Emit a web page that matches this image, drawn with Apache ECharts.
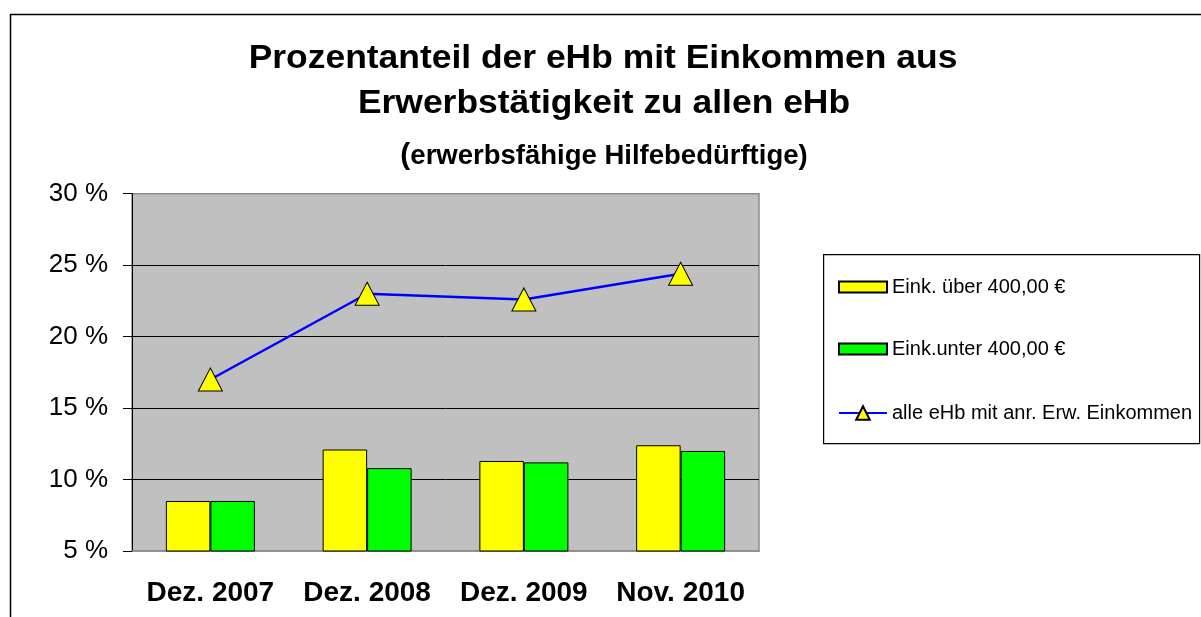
<!DOCTYPE html>
<html>
<head>
<meta charset="utf-8">
<script src="https://cdn.jsdelivr.net/npm/echarts@6/dist/echarts.min.js"></script>
<style>
  html, body { margin: 0; padding: 0; background: #fff; }
  #main { width: 1201px; height: 617px; }
</style>
</head>
<body>
<div id="main"></div>
<script>
var categories = ['Dez. 2007', 'Dez. 2008', 'Dez. 2009', 'Nov. 2010'];
var ueber400 = [8.5, 12.1, 11.3, 12.4];
var unter400 = [8.5, 10.8, 11.2, 12.0];
var alleEhb = [17.0, 23.0, 22.6, 24.4];
var seriesNames = ['Eink. über 400,00 €', 'Eink.unter 400,00 €', 'alle eHb mit anr. Erw. Einkommen'];

var chart = echarts.init(document.getElementById('main'));
var font = 'Liberation Sans, Arial, sans-serif';

// the big title in the original is a bit wider than plain Arial, so stretch it
var stretch = 1.09;

chart.setOption({
  animation: false,
  textStyle: { fontFamily: font },
  graphic: [
    {
      type: 'rect', left: 8, top: 12,
      shape: { width: 1200, height: 610 },
      style: { fill: 'none', stroke: '#000', lineWidth: 1.5 }, z: -1
    },
    {
      type: 'rect', left: 823, top: 254,
      shape: { width: 376, height: 189 },
      style: { fill: '#fff', stroke: '#000', lineWidth: 1.2 }, z: 0
    },
    {
      type: 'text', x: 603, y: 76, scaleX: stretch,
      style: {
        text: 'Prozentanteil der eHb mit Einkommen aus',
        font: 'bold 32.5px ' + font, fill: '#000',
        textAlign: 'center', textVerticalAlign: 'bottom'
      }
    },
    {
      type: 'text', x: 604, y: 121, scaleX: stretch,
      style: {
        text: 'Erwerbstätigkeit zu allen eHb',
        font: 'bold 32.5px ' + font, fill: '#000',
        textAlign: 'center', textVerticalAlign: 'bottom'
      }
    },
    {
      type: 'text', x: 604, y: 171,
      style: {
        text: '{p|(}{s|erwerbsfähige Hilfebedürftige)}',
        textAlign: 'center', textVerticalAlign: 'bottom',
        rich: {
          p: { fontSize: 30, fontWeight: 'bold', fill: '#000', fontFamily: font },
          s: { fontSize: 27.5, fontWeight: 'bold', fill: '#000', fontFamily: font }
        }
      }
    }
  ],
  legend: [
    {
      orient: 'vertical',
      left: 838, top: 277, padding: 0,
      itemWidth: 48, itemHeight: 11,
      itemGap: 42,
      textStyle: { fontSize: 20, color: '#000', fontFamily: font },
      data: [
        { name: seriesNames[0], icon: 'rect' },
        { name: seriesNames[1], icon: 'rect' }
      ],
      z: 5
    },
    {
      orient: 'vertical',
      left: 838, top: 403, padding: 0,
      itemWidth: 48, itemHeight: 17,
      textStyle: { fontSize: 20, color: '#000', fontFamily: font },
      data: [{ name: seriesNames[2] }],
      z: 5
    }
  ],
  grid: {
    left: 132, right: 442, top: 193.7, bottom: 66,
    show: true, backgroundColor: '#c0c0c0', borderColor: '#8c8c8c', borderWidth: 1.5
  },
  xAxis: {
    type: 'category',
    data: categories,
    axisTick: { show: false },
    axisLine: { show: true, lineStyle: { color: '#8c8c8c', width: 1.5 } },
    axisLabel: { interval: 0, fontSize: 28, fontWeight: 'bold', color: '#000', margin: 28, fontFamily: font }
  },
  yAxis: {
    type: 'value',
    min: 5, max: 30, interval: 5,
    axisLine: { show: true, lineStyle: { color: '#000', width: 1 } },
    axisTick: { show: true, length: 9, lineStyle: { color: '#000' } },
    axisLabel: { formatter: '{value} %', fontSize: 26, color: '#000', margin: 24, fontFamily: font },
    splitLine: { show: true, showMinLine: false, showMaxLine: false, lineStyle: { color: '#000', width: 1 } }
  },
  series: [
    {
      name: seriesNames[0], type: 'bar', data: ueber400,
      barWidth: 44.5, barGap: '0%',
      itemStyle: { color: '#ffff00', borderColor: '#000', borderWidth: 1 }
    },
    {
      name: seriesNames[1], type: 'bar', data: unter400,
      barWidth: 44.5, barGap: '0%',
      itemStyle: { color: '#00ff00', borderColor: '#000', borderWidth: 1 }
    },
    {
      name: seriesNames[2], type: 'line', data: alleEhb,
      symbol: 'triangle', symbolSize: [24, 23],
      lineStyle: { color: '#0000ff', width: 2.5 },
      itemStyle: { color: '#ffff00', borderColor: '#000', borderWidth: 1 },
      z: 4
    }
  ]
});
</script>
</body>
</html>
